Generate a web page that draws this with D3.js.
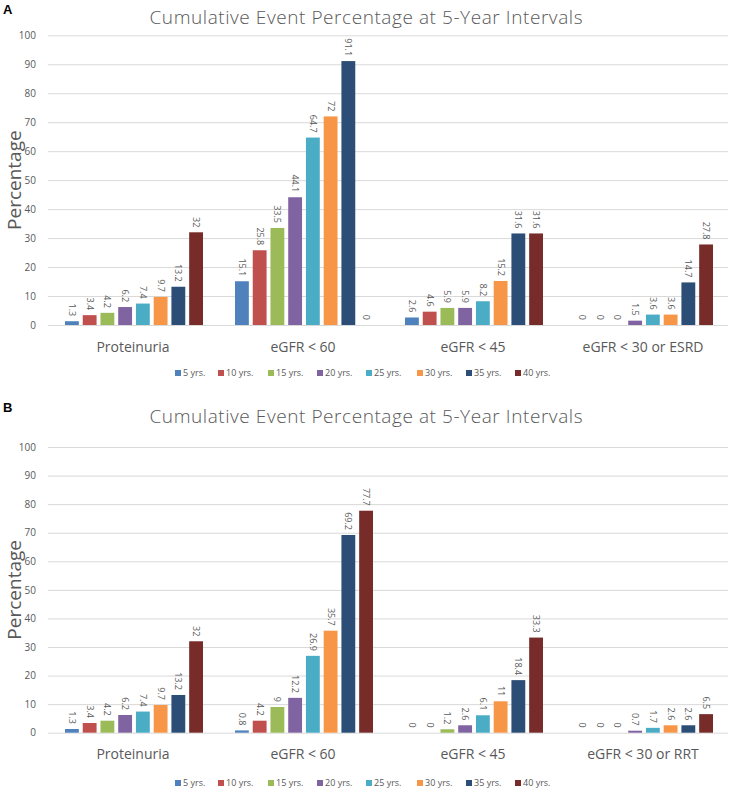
<!DOCTYPE html>
<html>
<head>
<meta charset="utf-8">
<script src="https://cdn.jsdelivr.net/npm/d3@7"></script>
<style>
  body { margin: 0; background: #fff; }
  text { font-family: "Open Sans", "Noto Sans", sans-serif; fill: #595959; }
</style>
</head>
<body>
<div class="chart"></div>
<script>
// Series (years) and colours
const years = ['5 yrs.', '10 yrs.', '15 yrs.', '20 yrs.', '25 yrs.', '30 yrs.', '35 yrs.', '40 yrs.'];
const colors = ['#4F81BD', '#C0504D', '#9BBB59', '#8064A2', '#4BACC6', '#F79646', '#2C4D75', '#772C2A'];
const yTicks = [0, 10, 20, 30, 40, 50, 60, 70, 80, 90, 100];

// Panel A
const categoriesA = ['Proteinuria', 'eGFR < 60', 'eGFR < 45', 'eGFR < 30 or ESRD'];
const valuesA = [[1.3, 3.4, 4.2, 6.2, 7.4, 9.7, 13.2, 32],
                 [15.1, 25.8, 33.5, 44.1, 64.7, 72, 91.1, 0],
                 [2.6, 4.6, 5.9, 5.9, 8.2, 15.2, 31.6, 31.6],
                 [0, 0, 0, 1.5, 3.6, 3.6, 14.7, 27.8]];

// Panel B
const categoriesB = ['Proteinuria', 'eGFR < 60', 'eGFR < 45', 'eGFR < 30 or RRT'];
const valuesB = [[1.3, 3.4, 4.2, 6.2, 7.4, 9.7, 13.2, 32],
                 [0.8, 4.2, 9, 12.2, 26.9, 35.7, 69.2, 77.7],
                 [0, 0, 1.2, 2.6, 6.1, 11, 18.4, 33.3],
                 [0, 0, 0, 0.7, 1.7, 2.6, 2.6, 6.5]];

var width = 731;
var height = 789;
var svg = d3.select(".chart")
    .append("svg")
    .attr("width", width)
    .attr("height", height);

// Draw one panel
function drawPanel(p) {
    var g = svg.append("g");

    // panel letter
    g.append("text")
        .attr("x", 3).attr("y", p.top)
        .style("font-family", "Liberation Sans, Arial, sans-serif")
        .style("font-weight", "bold")
        .style("font-size", "13px")
        .style("fill", "#000")
        .text(p.letter);

    // title
    g.append("text")
        .attr("x", 366).attr("y", p.titleY)
        .attr("text-anchor", "middle")
        .style("font-size", "19px")
        .style("font-weight", 300)
        .attr("textLength", 433)
        .text("Cumulative Event Percentage at 5-Year Intervals");

    var yScale = d3.scaleLinear()
        .domain([0, 100])
        .range([p.y0, p.y100]);

    var xScale = d3.scaleBand()
        .domain(p.categories)
        .range([48, 728]);

    var inner = d3.scaleBand()
        .domain(d3.range(years.length))
        .range([17, xScale.bandwidth() - 15])
        .paddingInner(0.22);

    // grid lines and tick labels
    var yAxis = d3.axisLeft(yScale)
        .tickValues(yTicks)
        .tickSize(-(728 - 48))
        .tickPadding(12);
    var ax = g.append("g")
        .attr("transform", "translate(48,0)")
        .call(yAxis);
    ax.select(".domain").remove();
    ax.selectAll(".tick line").attr("stroke", "#d9d9d9").attr("stroke-width", 1);
    ax.selectAll(".tick text")
        .style("font-size", "10px")
        .style("fill", "#595959")
        .style("font-family", "Open Sans, sans-serif");

    // axis title
    g.append("text")
        .attr("transform", "translate(21," + yScale(50) + ") rotate(-90)")
        .attr("text-anchor", "middle")
        .style("font-size", "19px")
        .text("Percentage");

    // bars
    p.categories.forEach(function (cat, ci) {
        var cg = g.append("g")
            .attr("transform", "translate(" + xScale(cat) + ",0)");
        cg.selectAll("rect")
            .data(p.values[ci])
            .enter()
            .append("rect")
            .attr("x", function (d, i) { return inner(i); })
            .attr("y", function (d) { return yScale(d); })
            .attr("width", inner.bandwidth())
            .attr("height", function (d) { return p.y0 - yScale(d); })
            .attr("fill", function (d, i) { return colors[i]; });

        cg.selectAll(".val")
            .data(p.values[ci])
            .enter()
            .append("text")
            .attr("class", "val")
            .attr("transform", function (d, i) {
                return "translate(" + (inner(i) + inner.bandwidth() / 2 - 3) + "," + (yScale(d) - 5) + ") rotate(90)";
            })
            .attr("text-anchor", "end")
            .style("font-size", "9px")
            .text(function (d) { return d; });

        // category label
        g.append("text")
            .attr("x", xScale(cat) + xScale.bandwidth() / 2)
            .attr("y", p.labelY)
            .attr("text-anchor", "middle")
            .style("font-size", "14px")
            .text(cat);
    });

    // legend
    var legendX = [175, 218, 268, 317, 366, 417, 466, 515];
    var lg = g.append("g").attr("transform", "translate(0," + p.legendY + ")");
    years.forEach(function (y, i) {
        lg.append("rect")
            .attr("x", legendX[i]).attr("y", -6)
            .attr("width", 6).attr("height", 6)
            .attr("fill", colors[i]);
        lg.append("text")
            .attr("x", legendX[i] + 8).attr("y", 0)
            .style("font-size", "9px")
            .text(y);
    });
}

drawPanel({letter: "A", top: 14, titleY: 24, y0: 325, y100: 35.3, labelY: 352, legendY: 376,
           categories: categoriesA, values: valuesA});
drawPanel({letter: "B", top: 412, titleY: 423, y0: 732.7, y100: 447, labelY: 759, legendY: 786,
           categories: categoriesB, values: valuesB});
</script>
</body>
</html>
